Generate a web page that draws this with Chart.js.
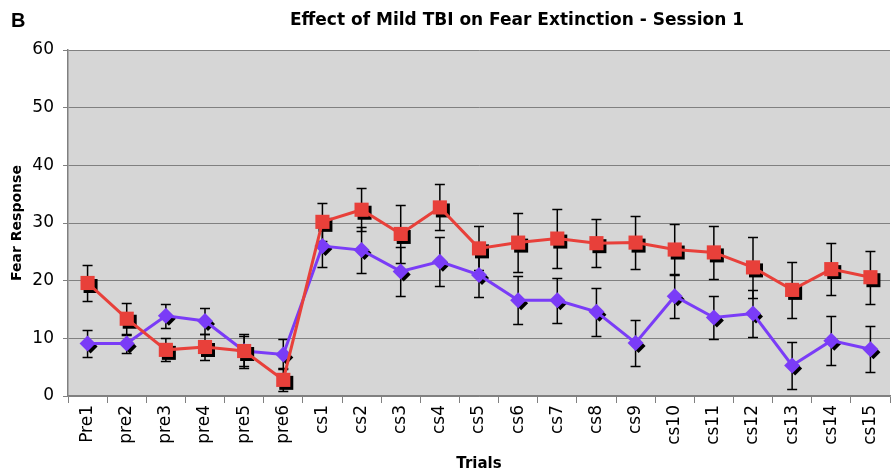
<!DOCTYPE html>
<html>
<head>
  <title>Effect of Mild TBI on Fear Extinction</title>
  <script src="https://cdn.jsdelivr.net/npm/chart.js"></script>
  <style>
    html, body {
      margin: 0;
      padding: 0;
      background: #fff;
      overflow: hidden;
    }
    .wrap {
      position: relative;
      width: 900px;
      height: 473px;
    }
    .panel {
      position: absolute;
      left: 11px;
      top: 9px;
      font: bold 20px "Liberation Sans", Arial, sans-serif;
      color: #000;
    }
    .title {
      position: absolute;
      left: 517px;
      top: 9px;
      transform: translateX(-50%);
      white-space: nowrap;
      font: bold 17px "DejaVu Sans", sans-serif;
      color: #000;
    }
  </style>
</head>
<body>
<div class="wrap">
  <canvas id="chart" width="900" height="473"></canvas>
  <div class="panel">B</div>
  <div class="title">Effect of Mild TBI on Fear Extinction - Session 1</div>
</div>

<script>
  const trials = ['Pre1', 'pre2', 'pre3', 'pre4', 'pre5', 'pre6',
    'cs1', 'cs2', 'cs3', 'cs4', 'cs5', 'cs6', 'cs7', 'cs8', 'cs9',
    'cs10', 'cs11', 'cs12', 'cs13', 'cs14', 'cs15'];

  // red squares
  const tbiMeans = [19.6, 13.4, 8.0, 8.5, 7.8, 2.8,
    30.2, 32.3, 28.1, 32.7, 25.6, 26.6, 27.3, 26.5, 26.6,
    25.4, 24.9, 22.3, 18.4, 22.0, 20.6];
  const tbiErr = [3.2, 2.8, 2.0, 2.3, 2.6, 2.0,
    3.3, 3.7, 5.1, 4.0, 3.8, 5.1, 5.1, 4.2, 4.6,
    4.4, 4.6, 5.3, 4.8, 4.5, 4.6];

  // purple diamonds
  const shamMeans = [9.1, 9.1, 13.9, 13.0, 7.8, 7.2,
    26.0, 25.3, 21.6, 23.3, 21.0, 16.6, 16.6, 14.6, 9.2,
    17.3, 13.6, 14.3, 5.3, 9.6, 8.1];
  const shamErr = [2.3, 1.7, 2.1, 2.3, 2.9, 2.6,
    3.7, 4.0, 4.2, 4.2, 3.9, 4.2, 3.9, 4.2, 4.0,
    3.8, 3.8, 4.1, 4.1, 4.3, 4.0];

  const yTicks = [0, 10, 20, 30, 40, 50, 60];

  const plotBg = {
    id: 'plotBg',
    beforeDraw(chart) {
      const { ctx, chartArea: a } = chart;
      ctx.save();
      ctx.fillStyle = '#d6d6d6';
      ctx.fillRect(a.left, a.top, a.right - a.left, a.bottom - a.top);
      ctx.restore();
    }
  };

  // error bars, then a black drop shadow under each marker
  const errorBars = {
    id: 'errorBars',
    beforeDatasetsDraw(chart) {
      const ctx = chart.ctx;
      const y = chart.scales.y;
      const errs = [tbiErr, shamErr];
      ctx.save();
      ctx.strokeStyle = '#000';
      ctx.lineWidth = 1.5;
      chart.data.datasets.forEach((ds, i) => {
        const meta = chart.getDatasetMeta(i);
        meta.data.forEach((pt, j) => {
          const v = ds.data[j];
          const top = Math.round(y.getPixelForValue(v + errs[i][j])) + 0.5;
          const bot = Math.round(y.getPixelForValue(v - errs[i][j])) + 0.5;
          ctx.beginPath();
          ctx.moveTo(pt.x, top);
          ctx.lineTo(pt.x, bot);
          ctx.moveTo(pt.x - 5, top);
          ctx.lineTo(pt.x + 5, top);
          ctx.moveTo(pt.x - 5, bot);
          ctx.lineTo(pt.x + 5, bot);
          ctx.stroke();
        });
      });
      ctx.restore();
    },
    beforeDatasetDraw(chart, args) {
      const ctx = chart.ctx;
      const ds = chart.data.datasets[args.index];
      ctx.save();
      ctx.fillStyle = '#000';
      args.meta.data.forEach(pt => {
        const x = pt.x + 3, yy = pt.y + 3;
        ctx.beginPath();
        if (ds.pointStyle === 'rect') {
          ctx.rect(x - 7, yy - 7, 14, 14);
        } else {
          ctx.moveTo(x, yy - 7);
          ctx.lineTo(x + 7, yy);
          ctx.lineTo(x, yy + 7);
          ctx.lineTo(x - 7, yy);
          ctx.closePath();
        }
        ctx.fill();
      });
      ctx.restore();
    }
  };

  new Chart(document.getElementById('chart').getContext('2d'), {
    type: 'line',
    data: {
      labels: trials,
      datasets: [
        {
          label: 'TBI',
          data: tbiMeans,
          borderColor: '#e8403a',
          backgroundColor: '#e8403a',
          borderWidth: 3,
          pointStyle: 'rect',
          pointRadius: 10,
          pointBorderWidth: 0,
          tension: 0
        },
        {
          label: 'Sham',
          data: shamMeans,
          borderColor: '#7a3cf7',
          backgroundColor: '#7a3cf7',
          borderWidth: 3,
          pointStyle: 'rectRot',
          pointRadius: 8,
          pointBorderWidth: 0,
          tension: 0
        }
      ]
    },
    options: {
      responsive: false,
      animation: false,
      layout: { padding: { left: 0, right: 0, top: 50, bottom: 0 } },
      plugins: {
        legend: { display: false },
        tooltip: { enabled: false },
        title: { display: false }
      },
      scales: {
        x: {
          offset: true,
          grid: {
            offset: true,
            drawOnChartArea: false,
            drawTicks: true,
            tickLength: 7,
            color: '#808080'
          },
          border: { color: '#808080', width: 1.5 },
          ticks: {
            color: '#000',
            font: { family: 'DejaVu Sans', size: 17 },
            maxRotation: 90,
            minRotation: 90,
            autoSkip: false,
            padding: 2
          },
          title: {
            display: true,
            text: 'Trials',
            color: '#000',
            font: { family: 'DejaVu Sans', size: 15, weight: 'bold' },
            padding: { top: 0, bottom: 0 }
          },
          afterFit(scale) { scale.height = 77; }
        },
        y: {
          min: 0,
          max: 60,
          afterBuildTicks(scale) {
            scale.ticks = yTicks.map(v => ({ value: v }));
          },
          grid: {
            color: '#808080',
            lineWidth: 1,
            drawTicks: true,
            tickLength: 5
          },
          border: { color: '#808080', width: 1.5 },
          ticks: {
            color: '#000',
            font: { family: 'DejaVu Sans', size: 17 },
            padding: 9
          },
          title: {
            display: true,
            text: 'Fear Response',
            color: '#000',
            font: { family: 'DejaVu Sans', size: 14, weight: 'bold' },
            padding: { top: 9, bottom: 0 }
          },
          afterFit(scale) { scale.width = 68; }
        }
      }
    },
    plugins: [plotBg, errorBars]
  });
</script>
</body>
</html>
